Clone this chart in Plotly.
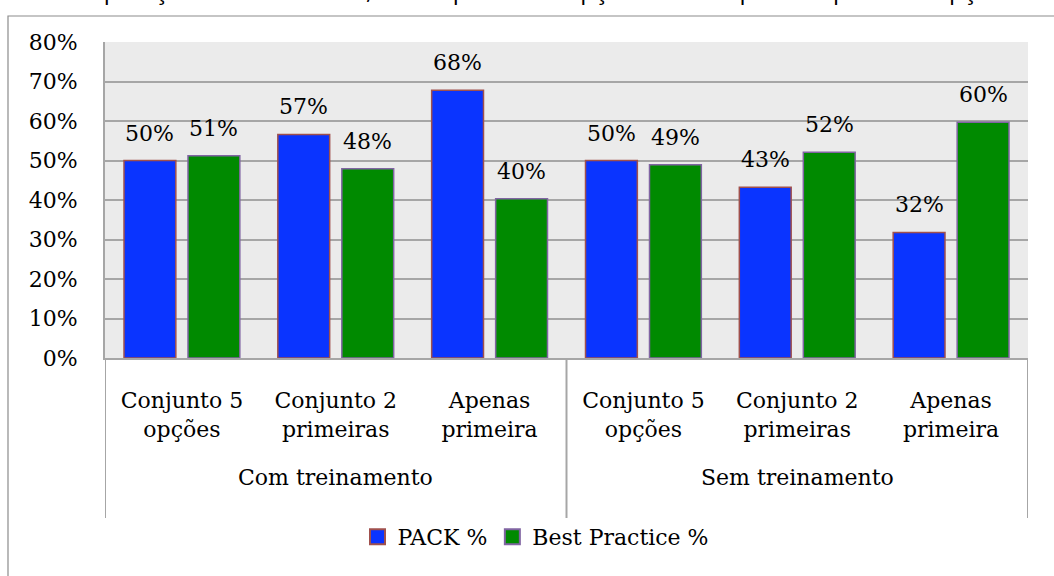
import plotly.graph_objects as go

# ---- data ----
subcategories = ["Conjunto 5<br>opções", "Conjunto 2<br>primeiras", "Apenas<br>primeira",
                 "Conjunto 5<br>opções", "Conjunto 2<br>primeiras", "Apenas<br>primeira"]
groups = ["Com treinamento", "Sem treinamento"]
group_size = 3
pack_pct = [0.500, 0.566, 0.678, 0.500, 0.432, 0.318]
best_pct = [0.512, 0.479, 0.403, 0.489, 0.521, 0.597]
series_names = ["PACK %", "Best Practice %"]
y_ticks = [0, 0.1, 0.2, 0.3, 0.4, 0.5, 0.6, 0.7, 0.8]
title_text = "Comparação entre métodos, com 5 primeiras opções e com apenas a primeira opção"

# ---- style ----
FONT = "DejaVu Serif"
FS = 22
W, H = 1054, 576
ML, MR, MT, MB = 105, 26, 42, 218
PW, PH = W - ML - MR, H - MT - MB
GRID = "#A6A6A6"
BARGAP, BARGROUPGAP = 0.168, 0.19
COLORS = ["#0A34FF", "#008A00"]
EDGES = ["#A0504D", "#8064A2"]

def py(pix):  # pixel y -> paper y
    return (H - MB - pix) / PH

def px(pix):  # pixel x -> paper x
    return (pix - ML) / PW

xs = list(range(len(subcategories)))
fig = go.Figure()
for vals, name, c, e in zip((pack_pct, best_pct), series_names, COLORS, EDGES):
    fig.add_trace(go.Bar(x=xs, y=vals, name=name, showlegend=False,
                         marker=dict(color=c, line=dict(color=e, width=1.5))))
# legend entries with square swatches
for name, c, e in zip(series_names, COLORS, EDGES):
    fig.add_trace(go.Scatter(x=[None], y=[None], mode="markers", name=name,
                             marker=dict(symbol="square", size=15, color=c, line=dict(color=e, width=2))))

off = (1 - BARGAP) / 4
annotations = []
for i in xs:
    for v, d in ((pack_pct[i], -off), (best_pct[i], off)):
        annotations.append(dict(x=i + d, y=v, xref="x", yref="y", text=f"{round(v*100)}%",
                                showarrow=False, yanchor="bottom", yshift=13,
                                font=dict(family=FONT, size=FS, color="black")))
for g, name in enumerate(groups):
    annotations.append(dict(x=g * group_size + (group_size - 1) / 2, y=py(477), xref="x", yref="paper",
                            text=name, showarrow=False, yanchor="middle",
                            font=dict(family=FONT, size=FS, color="black")))
annotations.append(dict(x=px(527), y=py(8), xref="paper", yref="paper", text=title_text,
                        showarrow=False, yanchor="bottom", xanchor="center",
                        font=dict(family="Open Sans", size=24, color="black")))

shapes = []
for k in range(len(groups) + 1):
    shapes.append(dict(type="line", xref="x", yref="paper", x0=k * group_size - 0.5, x1=k * group_size - 0.5,
                       y0=0, y1=py(518), line=dict(color=GRID, width=2)))
shapes.append(dict(type="rect", xref="paper", yref="paper", x0=px(8), x1=px(1080),
                   y0=py(620), y1=py(16), line=dict(color="#8C8C8C", width=1.2), layer="below"))

fig.update_layout(
    width=W, height=H, margin=dict(l=ML, r=MR, t=MT, b=MB),
    paper_bgcolor="white", plot_bgcolor="#EBEBEB",
    barmode="group", bargap=BARGAP, bargroupgap=BARGROUPGAP,
    font=dict(family=FONT, size=FS, color="black"),
    showlegend=True,
    legend=dict(orientation="h", x=px(536), xanchor="center", y=py(537), yanchor="middle",
                font=dict(family=FONT, size=FS, color="black"), itemwidth=30,
                bgcolor="rgba(0,0,0,0)"),
    annotations=annotations, shapes=shapes,
)
fig.update_xaxes(tickmode="array", tickvals=xs, ticktext=subcategories, range=[-0.5, len(xs) - 0.5],
                 showgrid=False, showline=True, linecolor=GRID, linewidth=2, ticks="",
                 ticklabelstandoff=22, tickfont=dict(family=FONT, size=FS, color="black"), zeroline=False)
fig.update_yaxes(range=[0, 0.8], tickmode="array", tickvals=y_ticks, tickformat=".0%",
                 showgrid=True, gridcolor=GRID, gridwidth=2, showline=True, linecolor=GRID, linewidth=2,
                 ticks="", ticklabelstandoff=21, tickfont=dict(family=FONT, size=FS, color="black"),
                 zeroline=False)

fig.write_html("out.html")
